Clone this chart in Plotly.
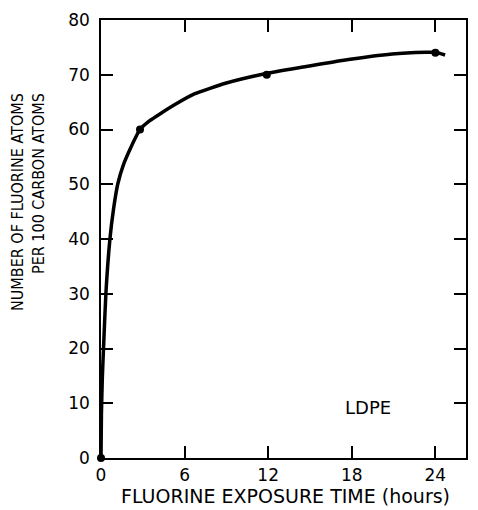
import plotly.graph_objects as go

# Smooth curve (hours, F atoms per 100 C)
curve_x = [0, 0.03, 0.1, 0.18, 0.35, 0.64, 0.9, 1.2, 1.6, 2.1, 2.8, 3.5, 4.2, 5.4, 6.7, 9.0, 11.6, 14.5, 17.3, 20.9, 23.3, 24.0, 24.7]
curve_y = [0, 8, 15, 20, 30, 40, 45.5, 50, 53.5, 56.5, 60, 61.6, 62.8, 64.7, 66.5, 68.5, 70.1, 71.4, 72.6, 73.8, 74.1, 74.1, 73.6]

# Measured points
pts_x = [0, 2.8, 11.9, 24.0]
pts_y = [0, 60, 70, 74]

x_ticks = [0, 6, 12, 18, 24]
y_ticks = [0, 10, 20, 30, 40, 50, 60, 70, 80]

font = "DejaVu Sans"
narrow = "DejaVu Sans Condensed, Liberation Sans Narrow, DejaVu Sans"

fig = go.Figure()
fig.add_trace(go.Scatter(x=curve_x, y=curve_y, mode="lines",
                         line=dict(color="black", width=3.5, shape="spline", smoothing=0.5),
                         showlegend=False, hoverinfo="skip", cliponaxis=False))
fig.add_trace(go.Scatter(x=pts_x, y=pts_y, mode="markers",
                         marker=dict(color="black", size=8),
                         showlegend=False, cliponaxis=False))

axis_common = dict(showgrid=False, zeroline=False, showline=True, linecolor="black",
                   linewidth=1.5, ticks="inside", ticklen=12, tickwidth=1.5,
                   tickcolor="black", mirror="ticks",
                   tickfont=dict(family=font, size=17, color="black"))

fig.update_xaxes(range=[0, 26.2], tickvals=x_ticks, ticktext=[str(v) for v in x_ticks],
                 ticklabelstandoff=1, **axis_common)
fig.update_yaxes(range=[0, 80], tickvals=y_ticks, ticktext=[str(v) for v in y_ticks],
                 ticklabelstandoff=6, **axis_common)

fig.add_annotation(text="FLUORINE EXPOSURE TIME (hours)", xref="paper", yref="paper",
                   x=0.505, y=-0.0877, xanchor="center", yanchor="middle", showarrow=False,
                   font=dict(family=font, size=19, color="black"))
fig.add_annotation(text="NUMBER OF FLUORINE ATOMS<br>PER 100 CARBON ATOMS", xref="paper", yref="paper",
                   x=-0.2, y=0.838, xanchor="center", yanchor="top", showarrow=False,
                   textangle=-90, align="right",
                   font=dict(family=narrow, size=16, color="black"))
fig.add_annotation(text="LDPE", x=19.2, y=9.3, xanchor="center", yanchor="middle",
                   showarrow=False, font=dict(family=font, size=18, color="black"))

fig.update_layout(width=478, height=510, margin=dict(l=101, r=10, t=19, b=52),
                  plot_bgcolor="white", paper_bgcolor="white")

fig.write_html("out.html")
